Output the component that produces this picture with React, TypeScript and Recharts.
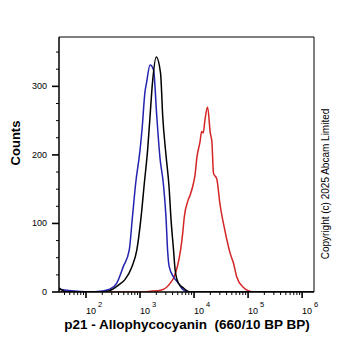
import { LineChart, Line, XAxis, YAxis, ReferenceLine } from "recharts";

// decade position (log10 of intensity) and counts
const blueLog = [1.5, 2.07, 2.26, 2.44, 2.57, 2.69, 2.8, 2.86, 2.92, 3.0, 3.04, 3.09, 3.12, 3.185, 3.25, 3.31, 3.37, 3.43, 3.48, 3.51, 3.54, 3.62, 3.71, 3.8, 3.93, 6.22];
const blueCounts = [4, 0, 1, 4, 13, 37, 61, 110, 159, 207, 240, 291, 305, 331, 324, 256, 195, 159, 110, 61, 37, 22, 13, 3, 0, 0];

const blackLog = [1.5, 1.57, 1.65, 2.26, 2.44, 2.6, 2.72, 2.85, 2.94, 3.02, 3.08, 3.14, 3.185, 3.23, 3.3, 3.38, 3.42, 3.48, 3.54, 3.57, 3.62, 3.65, 3.71, 3.8, 3.93, 6.22];
const blackCounts = [6, 2, 0, 0, 2, 10, 18, 37, 61, 110, 159, 207, 256, 305, 343, 319, 256, 200, 150, 110, 61, 32, 13, 6, 0, 0];

const redLog = [1.5, 3.0, 3.19, 3.4, 3.56, 3.63, 3.7, 3.75, 3.79, 3.82, 3.89, 3.93, 3.99, 4.02, 4.05, 4.11, 4.14, 4.17, 4.2, 4.25, 4.3, 4.33, 4.36, 4.42, 4.48, 4.57, 4.67, 4.73, 4.79, 4.91, 5.0, 5.13, 6.22];
const redCounts = [0, 0, 1, 3, 13, 22, 40, 61, 86, 110, 134, 142, 159, 172, 195, 219, 234, 232, 250, 270, 232, 219, 173, 165, 128, 90, 56, 42, 22, 7, 2, 0, 0];

const majorDecades = [2, 3, 4, 5, 6];
const yMajor = [0, 100, 200, 300];
const yMinor = [25, 50, 75, 125, 150, 175, 225, 250, 275, 325, 350];

const X_DOMAIN = [1.5, 6.22];
const Y_DOMAIN = [0, 372];

const FONT = "'Liberation Sans', Arial, sans-serif";

const toRows = (xs: number[], ys: number[]) => xs.map((x, i) => ({ x, y: ys[i] }));

const xTicks: number[] = [];
for (let d = 1; d <= 6; d++) {
  for (let k = 1; k <= 9; k++) {
    const v = d + Math.log10(k);
    if (v >= X_DOMAIN[0] && v <= X_DOMAIN[1]) xTicks.push(v);
  }
}

function XTick(props: any) {
  const { x, y, payload } = props;
  const v = payload.value;
  const major = majorDecades.some((d) => Math.abs(d - v) < 1e-6);
  return (
    <g>
      <line x1={x} y1={y} x2={x} y2={y + (major ? 6 : 3)} stroke="#000" strokeWidth={major ? 1.6 : 1} />
      {major && (
        <>
          <text x={x} y={y + 22} fontSize={9} fontFamily={FONT} fill="#000">
            10
          </text>
          <text x={x + 12} y={y + 15} fontSize={7.5} fontFamily={FONT} fill="#000">
            {Math.round(v)}
          </text>
        </>
      )}
    </g>
  );
}

function YTick(props: any) {
  const { x, y, payload } = props;
  const major = yMajor.includes(payload.value);
  return (
    <g>
      <line x1={x - (major ? 7 : 3)} y1={y} x2={x} y2={y} stroke="#000" strokeWidth={major ? 1.6 : 1} />
      {major && (
        <text x={x - 12} y={y + 3} textAnchor="end" fontSize={9} fontFamily={FONT} fill="#000">
          {payload.value}
        </text>
      )}
    </g>
  );
}

export default function App() {
  return (
    <div style={{ position: "absolute", left: 0, top: 0, background: "#fff" }}>
      <LineChart width={362} height={351} margin={{ top: 37, right: 48, bottom: 0, left: 0 }}>
        <XAxis
          dataKey="x"
          type="number"
          domain={X_DOMAIN}
          allowDataOverflow
          ticks={xTicks}
          interval={0}
          tick={<XTick />}
          tickLine={false}
          tickSize={0}
          tickMargin={0}
          height={59}
          axisLine={{ stroke: "#000", strokeWidth: 1.5 }}
          label={{
            content: () => (
              <text x={187} y={329} textAnchor="middle" fontSize={13.5} fontWeight="bold" fontFamily={FONT} fill="#000" style={{ whiteSpace: "pre" }}>
                p21 - Allophycocyanin  (660/10 BP BP)
              </text>
            ),
          }}
        />
        <YAxis
          type="number"
          domain={Y_DOMAIN}
          allowDataOverflow
          ticks={[...yMajor, ...yMinor]}
          interval={0}
          tick={<YTick />}
          tickLine={false}
          tickSize={0}
          tickMargin={0}
          width={59}
          axisLine={{ stroke: "#000", strokeWidth: 1.5 }}
          label={{
            content: () => (
              <text x={20} y={143} transform="rotate(-90 20 143)" textAnchor="middle" fontSize={13} fontWeight="bold" fontFamily={FONT} fill="#000">
                Counts
              </text>
            ),
          }}
        />
        <ReferenceLine y={Y_DOMAIN[1]} stroke="#000" strokeWidth={1} ifOverflow="extendDomain" />
        <ReferenceLine
          x={X_DOMAIN[1]}
          stroke="#000"
          strokeWidth={1}
          ifOverflow="extendDomain"
          label={{
            content: () => (
              <text x={329} y={184} transform="rotate(-90 329 184)" textAnchor="middle" fontSize={10} fontFamily={FONT} fill="#000">
                Copyright (c) 2025 Abcam Limited
              </text>
            ),
          }}
        />
        <Line data={toRows(redLog, redCounts)} dataKey="y" type="monotone" stroke="#d42424" strokeWidth={1.5} dot={false} isAnimationActive={false} />
        <Line data={toRows(blueLog, blueCounts)} dataKey="y" type="monotone" stroke="#2323b0" strokeWidth={1.5} dot={false} isAnimationActive={false} />
        <Line data={toRows(blackLog, blackCounts)} dataKey="y" type="monotone" stroke="#000" strokeWidth={1.5} dot={false} isAnimationActive={false} />
      </LineChart>
    </div>
  );
}
